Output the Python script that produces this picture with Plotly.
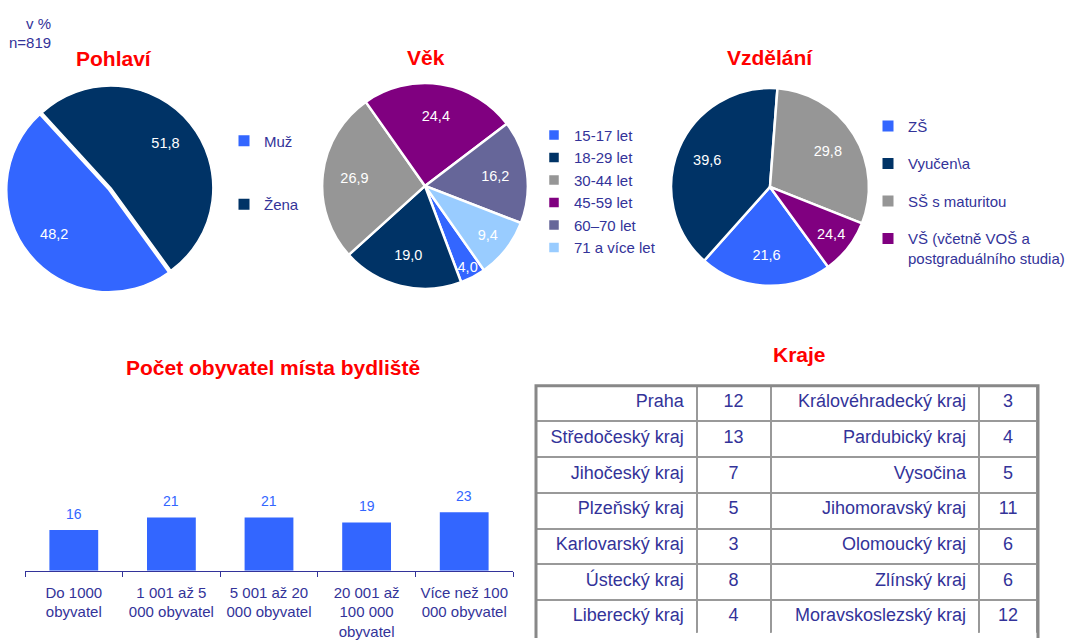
import plotly.graph_objects as go

W, H = 1073, 640

# ---------------- data ----------------
pohlavi_labels = ["Muž", "Žena"]
pohlavi_values = [48.2, 51.8]

vek_labels = ["15-17 let", "18-29 let", "30-44 let", "45-59 let", "60–70 let", "71 a více let"]
vek_values = [4.0, 19.0, 26.9, 24.4, 16.2, 9.4]

vzdelani_labels = ["ZŠ", "Vyučen\\a", "SŠ s maturitou", "VŠ (včetně VOŠ a<br>postgraduálního studia)"]
vzdelani_values = [21.6, 39.6, 29.8, 9.0]
vzdelani_text = ["21,6", "39,6", "29,8", "24,4"]

obyvatel_categories = [
    "Do 1000<br>obyvatel",
    "1 001 až 5<br>000 obyvatel",
    "5 001 až 20<br>000 obyvatel",
    "20 001 až<br>100 000<br>obyvatel",
    "Více než 100<br>000 obyvatel",
]
obyvatel_values = [16, 21, 21, 19, 23]

kraje_left = ["Praha", "Středočeský kraj", "Jihočeský kraj", "Plzeňský kraj",
              "Karlovarský kraj", "Ústecký kraj", "Liberecký kraj"]
kraje_left_values = [12, 13, 7, 5, 3, 8, 4]
kraje_right = ["Královéhradecký kraj", "Pardubický kraj", "Vysočina", "Jihomoravský kraj",
               "Olomoucký kraj", "Zlínský kraj", "Moravskoslezský kraj"]
kraje_right_values = [3, 4, 5, 11, 6, 6, 12]

# ---------------- styling ----------------
FONT = "Liberation Sans, Arial, sans-serif"
TXT = "#333399"
RED = "#FF0000"
pohlavi_colors = ["#3366FF", "#003366"]
vek_colors = ["#3366FF", "#003366", "#969696", "#800080", "#666699", "#99CCFF"]
vzdelani_colors = ["#3366FF", "#003366", "#969696", "#800080"]
LABEL_FONT = dict(color="white", size=14.5, family=FONT)
LABEL_HOLE = 0.38  # transparent ring that carries the labels (places them at ~0.7 r)


def fx(px):
    return px / W


def fy(py):
    return 1 - py / H


def dom(cx, cy, r, pull=0.0):
    h = r * (1 + pull)
    cx = max(cx, h)
    return dict(x=[fx(cx - h), fx(cx + h)], y=[fy(cy + h), fy(cy - h)])


fig = go.Figure()


def add_pie(labels, values, colors, rotation, domain, pull, border, legend, showlegend,
            text=None):
    common = dict(labels=labels, values=values, sort=False, direction="clockwise",
                  rotation=rotation, pull=pull, domain=domain)
    fig.add_trace(go.Pie(
        **common,
        marker=dict(colors=colors, line=dict(color="white", width=border)),
        textinfo="none", legend=legend, showlegend=showlegend, hoverinfo="label+value",
    ))
    lab = dict(text=text, textinfo="text") if text is not None else dict(texttemplate="%{value:.1f}")
    fig.add_trace(go.Pie(
        **common, hole=LABEL_HOLE,
        marker=dict(colors=["rgba(0,0,0,0)"] * len(values), line=dict(width=0)),
        textposition="inside", insidetextorientation="horizontal", textfont=LABEL_FONT,
        showlegend=False, hoverinfo="skip", **lab,
    ))


PULL = 0.03
add_pie(pohlavi_labels, pohlavi_values, pohlavi_colors, 144, dom(111, 190, 103, PULL),
        [PULL, 0], 1.5, "legend", False)
add_pie(vek_labels, vek_values, vek_colors, 145, dom(425, 188, 104),
        0, 2.5, "legend2", True)
add_pie(vzdelani_labels, vzdelani_values, vzdelani_colors, 144, dom(770, 189, 100),
        0, 2.5, "legend3", False, text=vzdelani_text)

# legend entries for Pohlaví and Vzdělání (own spacing)
for lab, col in zip(pohlavi_labels, pohlavi_colors):
    fig.add_trace(go.Scatter(x=[None], y=[None], mode="markers", name=lab, legendgroup="p" + lab,
                             marker=dict(symbol="square", size=11, color=col),
                             legend="legend", xaxis="x2", yaxis="y2", hoverinfo="skip"))
for lab, col in zip(vzdelani_labels, vzdelani_colors):
    fig.add_trace(go.Scatter(x=[None], y=[None], mode="markers", name=lab, legendgroup="v" + lab,
                             marker=dict(symbol="square", size=11, color=col),
                             legend="legend3", xaxis="x2", yaxis="y2", hoverinfo="skip"))

# Bar chart
fig.add_trace(go.Bar(
    x=obyvatel_categories, y=obyvatel_values, marker=dict(color="#3366FF", line=dict(width=0)),
    width=0.5, showlegend=False, xaxis="x", yaxis="y", hoverinfo="x+y",
))

# Table (runs off the bottom of the page, as in the original)
TABLE_TOP = 390
pad = "\u00a0"
first = [kraje_left[0] + pad, kraje_left_values[0], kraje_right[0] + pad, kraje_right_values[0]]
rest = [[n + pad for n in kraje_left[1:]], kraje_left_values[1:],
        [n + pad for n in kraje_right[1:]], kraje_right_values[1:]]
cell_style = dict(
    align=["right", "center", "right", "center"],
    line=dict(color="#999999", width=2),
    fill=dict(color="white"),
    font=dict(family=FONT, size=18, color=TXT),
    height=35.7,
)
fig.add_trace(go.Table(
    domain=dict(x=[fx(536), fx(1038)], y=[0, fy(TABLE_TOP)]),
    columnwidth=[161, 74, 209, 58],
    header=dict(values=first, **cell_style),
    cells=dict(values=rest, **cell_style),
))

annotations = []
for cat, v in zip(obyvatel_categories, obyvatel_values):
    annotations.append(dict(x=cat, y=v, xref="x", yref="y", text=str(v), showarrow=False,
                            yshift=16, font=dict(family=FONT, size=14, color="#3366FF")))


def title(text, cx, cy):
    annotations.append(dict(x=fx(cx), y=fy(cy), xref="paper", yref="paper", text="<b>%s</b>" % text,
                            showarrow=False, xanchor="center", yanchor="middle",
                            font=dict(family=FONT, size=21, color=RED)))


title("Pohlaví", 114, 59)
title("Věk", 426, 58)
title("Vzdělání", 770, 58)
title("Počet obyvatel místa bydliště", 273, 372)
title("Kraje", 799, 358)

for t, yy in [("v %", 24), ("n=819", 43)]:
    annotations.append(dict(x=fx(53), y=fy(yy), xref="paper", yref="paper", text=t, showarrow=False,
                            xanchor="right", yanchor="middle", font=dict(family=FONT, size=15, color=TXT)))

# open frame (left, top, right) around the table, which continues past the page bottom
frame_path = "M {l},{b} L {l},{t} L {r},{t} L {r},{b}".format(
    l=fx(536), r=fx(1038), t=fy(TABLE_TOP), b=fy(645))

fig.update_layout(
    width=W, height=H, margin=dict(l=0, r=0, t=0, b=0),
    paper_bgcolor="white", plot_bgcolor="white",
    separators=", ",
    font=dict(family=FONT, color=TXT),
    uniformtext=dict(minsize=14.5, mode="show"),
    annotations=annotations,
    shapes=[dict(type="path", xref="paper", yref="paper", path=frame_path,
                 line=dict(color="#888888", width=3))],
    xaxis=dict(domain=[fx(25), fx(513)], anchor="y", showline=True, linecolor="#333399", linewidth=1,
               ticks="outside", tickson="boundaries", ticklen=5, tickcolor="#333399",
               ticklabelstandoff=8,
               tickfont=dict(family=FONT, size=15, color=TXT), showgrid=False, fixedrange=True),
    yaxis=dict(domain=[fy(577), fy(441)], anchor="x", range=[0, 53], visible=False, fixedrange=True),
    xaxis2=dict(domain=[0, 0.01], anchor="y2", visible=False),
    yaxis2=dict(domain=[0.99, 1], anchor="x2", visible=False),
    legend=dict(x=fx(224), y=fy(126), xanchor="left", yanchor="top", tracegroupgap=41,
                font=dict(family=FONT, size=15, color=TXT), bgcolor="rgba(0,0,0,0)"),
    legend2=dict(x=fx(534), y=fy(120), xanchor="left", yanchor="top",
                 font=dict(family=FONT, size=15, color=TXT), bgcolor="rgba(0,0,0,0)"),
    legend3=dict(x=fx(868), y=fy(111), xanchor="left", yanchor="top", tracegroupgap=15, valign="top",
                 font=dict(family=FONT, size=15, color=TXT), bgcolor="rgba(0,0,0,0)"),
)

# Remove the page's default 8px body margin and clip anything drawn past the
# 1073x640 figure, so the page is exactly the size of the window.
fig.write_html(
    "out.html", config={"displayModeBar": False},
    post_script=(
        "document.documentElement.style.overflow='hidden';"
        "document.body.style.margin='0';document.body.style.overflow='hidden';"
        "var gd=document.getElementById('{plot_id}');gd.style.overflow='hidden';"
    ),
)
